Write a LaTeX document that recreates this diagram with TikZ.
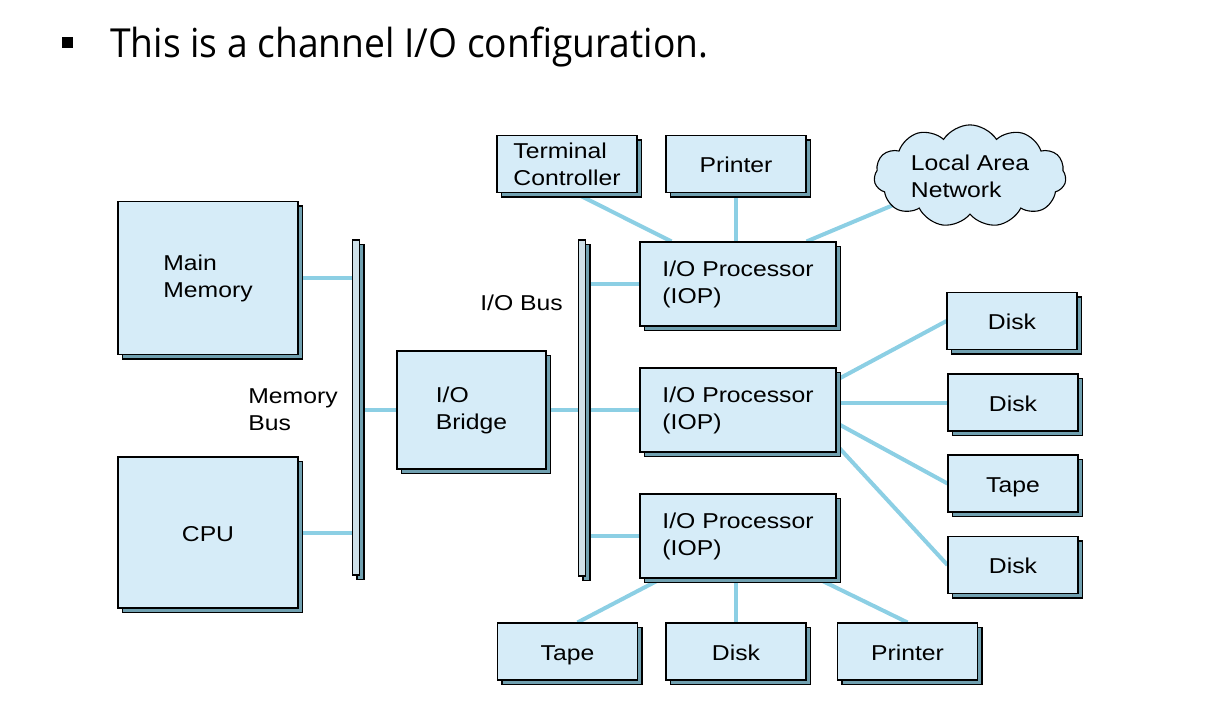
\documentclass[tikz,border=0pt]{standalone}
\usepackage{fontspec}
\setmainfont{Liberation Sans}[FakeStretch=1.15]
\newfontfamily\headfont{Open Sans}[FakeStretch=0.93]
\usetikzlibrary{shapes.symbols,shadows,backgrounds,calc}
\definecolor{boxfill}{RGB}{214,236,248}
\definecolor{slabfill}{RGB}{112,160,176}
\definecolor{busfill}{RGB}{206,224,232}
\definecolor{wire}{RGB}{140,207,228}
\tikzset{
  unit/.style = {rectangle, draw=black, line width=1.1pt, fill=boxfill,
                 inner sep=0pt, align=left,
                 font=\fontsize{21.5}{27}\selectfont,
                 general shadow={shadow xshift=4.5pt, shadow yshift=-4.5pt,
                                 fill=slabfill, draw=black, line width=1.1pt}},
  dev/.style = {unit, text height=17pt, text depth=0pt},
  bus/.style = {unit, fill=busfill, minimum width=7pt},
  link/.style = {draw=wire, line width=4pt},
  lbl/.style = {inner sep=0pt, align=left, font=\fontsize{21.5}{27}\selectfont}
}

\begin{document}
\begin{tikzpicture}[x=1pt, y=-1pt]
	\def \wA{180}
	\def \wIOP{196}
	\def \hIOP{84}
	\def \wDev{140}
	\def \hDev{57}

	\useasboundingbox (0,0) rectangle (1222,726);

	% Heading
	\node[fill=black, minimum size=11pt, inner sep=0pt] (bullet) at (67.5,42.5) {};
	\node[anchor=base west, inner sep=0pt, font=\headfont\fontsize{40}{48}\selectfont] (title) at (110,57) {This is a channel I/O configuration.};

	% Memory side
	\node[unit, minimum width=\wA, minimum height=153] (mem) at (208,278) {Main\\Memory};
	\node[dev, minimum width=\wA, minimum height=151] (cpu) at (208,532.5) {CPU};
	\node[bus, minimum height=335] (mbus) at (356,407.5) {};
	\node[lbl] (mbuslbl) at (293,410) {Memory\\Bus};
	\node[unit, minimum width=149, minimum height=118] (bridge) at (471.5,410) {I/O\\Bridge};

	% I/O bus
	\node[bus, minimum height=336] (iobus) at (582,408) {};
	\node[lbl] (iobuslbl) at (521.5,303) {I/O Bus};

	% I/O processors
	\node[unit, minimum width=\wIOP, minimum height=\hIOP] (iopA) at (738,284) {I/O Processor\\(IOP)};
	\node[unit, minimum width=\wIOP, minimum height=\hIOP] (iopB) at (738,410) {I/O Processor\\(IOP)};
	\node[unit, minimum width=\wIOP, minimum height=\hIOP] (iopC) at (738,536) {I/O Processor\\(IOP)};

	% Devices, top
	\node[unit, minimum width=\wDev, minimum height=\hDev] (term) at (567,164) {Terminal\\Controller};
	\node[dev, minimum width=\wDev, minimum height=\hDev] (prnA) at (736,164) {Printer};
	\node[cloud, cloud puffs=11, cloud puff arc=115, aspect=2.1, draw=black, line width=1.1pt,
	      fill=boxfill, inner sep=0pt, minimum width=192pt, minimum height=96pt, align=left,
	      font=\fontsize{21.5}{27}\selectfont] (lan) at (970,176) {Local Area\\Network};

	% Devices, right
	\node[dev, minimum width=130, minimum height=\hDev] (dskA) at (1012,321) {Disk};
	\node[dev, minimum width=130, minimum height=\hDev] (dskB) at (1013,402.5) {Disk};
	\node[dev, minimum width=130, minimum height=\hDev] (tpeA) at (1013,483.5) {Tape};
	\node[dev, minimum width=130, minimum height=\hDev] (dskC) at (1013,565) {Disk};

	% Devices, bottom
	\node[dev, minimum width=\wDev, minimum height=\hDev] (tpeB) at (567.5,651.5) {Tape};
	\node[dev, minimum width=\wDev, minimum height=\hDev] (dskD) at (736,651.5) {Disk};
	\node[dev, minimum width=\wDev, minimum height=\hDev] (prnB) at (907.5,651.5) {Printer};

	% Wires
	\begin{pgfonlayer}{background}
	\draw[link] (mem.east) -- (mem.east -| mbus.center);
	\draw[link] (cpu.east) -- (cpu.east -| mbus.center);
	\draw[link] (mbus.center |- bridge.west) -- (bridge.west);
	\draw[link] (bridge.east) -- (bridge.east -| iobus.center);
	\draw[link] (iobus.center |- iopA.west) -- (iopA.west);
	\draw[link] (iobus.center |- iopB.west) -- (iopB.west);
	\draw[link] (iobus.center |- iopC.west) -- (iopC.west);

	\draw[link] ($(term.south)+(8,0)$) -- ($(iopA.north west)+(32,0)$);
	\draw[link] (prnA.south) -- (prnA.south |- iopA.north);
	\draw[link] ($(iopA.north east)+(-30,0)$) -- ($(lan.center)+(-60,22)$);

	\draw[link] ($(iopB.east)+(0,-30)$) -- (dskA.west);
	\draw[link] (iopB.east |- dskB.west) -- (dskB.west);
	\draw[link] ($(iopB.east)+(0,13)$) -- (tpeA.west);
	\draw[link] ($(iopB.east)+(0,35)$) -- (dskC.west);

	\draw[link] ($(iopC.south west)+(22,0)$) -- ($(tpeB.north)+(10,0)$);
	\draw[link] (dskD.north) -- (dskD.north |- iopC.south);
	\draw[link] ($(iopC.south east)+(-19,0)$) -- (prnB.north);
	\end{pgfonlayer}
\end{tikzpicture}
\end{document}
